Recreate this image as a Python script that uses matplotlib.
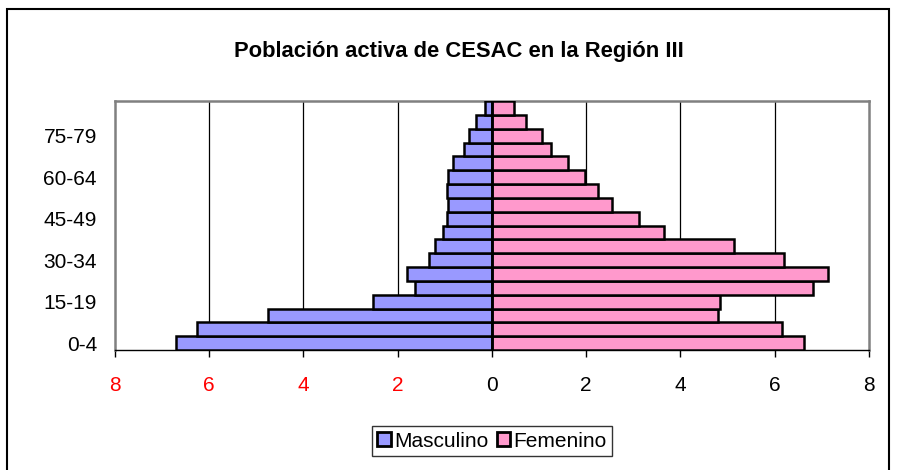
import matplotlib.pyplot as plt
from matplotlib.patches import Rectangle

plt.rcParams["font.family"] = ["Liberation Sans", "DejaVu Sans"]

# data (bottom to top)
grupos = ['0-4', '5-9', '10-14', '15-19', '20-24', '25-29', '30-34', '35-39',
          '40-44', '45-49', '50-54', '55-59', '60-64', '65-69', '70-74',
          '75-79', '80-84', '85+']
masculino = [6.71, 6.26, 4.75, 2.52, 1.63, 1.80, 1.34, 1.21, 1.03, 0.96,
             0.94, 0.96, 0.94, 0.82, 0.59, 0.49, 0.33, 0.15]
femenino = [6.62, 6.15, 4.79, 4.83, 6.81, 7.14, 6.20, 5.14, 3.64, 3.12,
            2.55, 2.24, 1.97, 1.62, 1.25, 1.07, 0.72, 0.47]
xticks = [-8, -6, -4, -2, 0, 2, 4, 6, 8]

fig = plt.figure(figsize=(8.99, 4.70), dpi=100)
ax = fig.add_axes([0.1279, 0.2553, 0.8387, 0.5298])

y = list(range(len(grupos)))
ax.barh(y, [-v for v in masculino], height=1.0, color='#9999FF',
        edgecolor='black', linewidth=1.8, label='Masculino', zorder=3)
ax.barh(y, femenino, height=1.0, color='#FF99CC',
        edgecolor='black', linewidth=1.8, label='Femenino', zorder=3)

ax.set_xlim(-8, 8)
ax.set_ylim(-0.5, len(grupos) - 0.5)

for g in [-6, -4, -2, 2, 4, 6]:
    ax.axvline(g, color='black', linewidth=0.9, zorder=1)
ax.axvline(0, color='black', linewidth=1.8, zorder=4)

ax.set_xticks(xticks)
ax.set_xticklabels([str(abs(v)) for v in xticks])
for lab, v in zip(ax.get_xticklabels(), xticks):
    lab.set_color('red' if v < 0 else 'black')
ax.tick_params(axis='x', direction='out', length=5, width=1, pad=14,
               labelsize=15, color='black')

ax.set_yticks(y[::3])
ax.set_yticklabels(grupos[::3])
ax.tick_params(axis='y', length=0, pad=13, labelsize=15)

for s in ['left', 'top', 'right']:
    ax.spines[s].set_color('#808080')
    ax.spines[s].set_linewidth(1.8)
ax.spines['bottom'].set_color('black')
ax.spines['bottom'].set_linewidth(1.0)

fig.text(0.5106, 0.89, 'Población activa de CESAC en la Región III',
         ha='center', va='center', fontsize=15.8, fontweight='bold')

leg = fig.legend(loc='center', bbox_to_anchor=(0.5473, 0.0617), ncol=2,
                 fontsize=15, frameon=True, fancybox=False, shadow=False,
                 handlelength=0.65, handleheight=0.65, handletextpad=0.15,
                 columnspacing=0.4, borderpad=0.25, borderaxespad=0)
leg.get_frame().set_edgecolor('black')
leg.get_frame().set_linewidth(1.0)
for h in leg.legend_handles:
    h.set_linewidth(2.0)

# outer chart border
fig.patches.append(Rectangle((7 / 899, -0.05), 882 / 899, 1 - 9 / 470 + 0.05,
                             transform=fig.transFigure, fill=False,
                             edgecolor='black', linewidth=1.5))

fig.savefig('out.png', dpi=100)
